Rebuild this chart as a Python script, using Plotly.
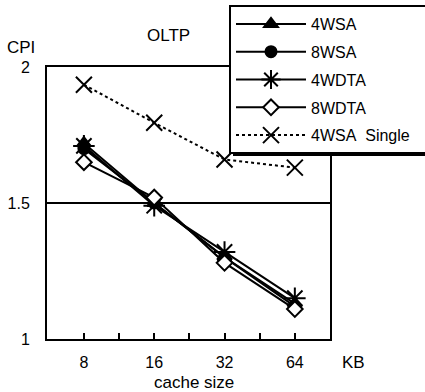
import plotly.graph_objects as go

categories = ["8", "16", "32", "64"]
x_pos = [0, 1, 2, 3]
s_4wsa = [1.72, 1.50, 1.30, 1.13]
s_8wsa = [1.70, 1.50, 1.30, 1.12]
s_4wdta = [1.71, 1.49, 1.32, 1.15]
s_8wdta = [1.65, 1.52, 1.28, 1.11]
s_4wsa_single = [1.935, 1.795, 1.66, 1.63]
y_ticks = [1, 1.5, 2]
y_tick_labels = ["1", "1.5", "2"]

FONT = "Liberation Sans, Arial, sans-serif"
NB = "\u00a0"

fig = go.Figure()

def add(name, y, symbol, size, fill="black", dash="solid", group=""):
    fig.add_trace(go.Scatter(
        x=x_pos, y=y, name=name, mode="lines+markers", legendgroup=group,
        line=dict(color="black", width=2, dash=dash),
        marker=dict(symbol=symbol, size=size, color=fill,
                    line=dict(color="black", width=2)),
    ))

add("4WSA", s_4wsa, "triangle-up", 12, group="a")
add("8WSA", s_8wsa, "circle", 11, group="b")
add("4WDTA", s_4wdta, "asterisk-open", 18, group="c")
add("8WDTA", s_8wdta, "diamond", 12, fill="white", group="d")
add("4WSA" + NB * 2 + "Single" + NB * 3, s_4wsa_single, "x-thin-open", 16,
    dash="dot", group="e")

tickvals = [0, 0.5, 1, 1.5, 2, 2.5, 3]
ticktext = ["8", "", "16", "", "32", "", "64"]

def px_x(p):
    return (p - 47) / 283

def px_y(p):
    return (339 - p) / 272

fig.update_layout(
    width=425, height=392,
    margin=dict(l=47, r=95, t=67, b=53, autoexpand=False),
    paper_bgcolor="white", plot_bgcolor="white",
    font=dict(family=FONT, size=16, color="black"),
    showlegend=True,
    legend=dict(
        x=px_x(229), y=px_y(5), xanchor="left", yanchor="top",
        bgcolor="white", bordercolor="black", borderwidth=2,
        font=dict(family=FONT, size=16, color="black"),
        tracegroupgap=4, itemwidth=70,
    ),
    xaxis=dict(
        range=[-0.525, 3.5], tickvals=tickvals, ticktext=ticktext,
        ticks="inside", ticklen=6, tickwidth=2, tickcolor="black",
        showline=True, linecolor="black", linewidth=2, mirror=True,
        showgrid=False, zeroline=False, ticklabelstandoff=8, automargin=False,
    ),
    yaxis=dict(
        range=[1, 2], tickvals=y_ticks, ticktext=y_tick_labels,
        ticks="", showline=True, linecolor="black", linewidth=2, mirror=True,
        showgrid=True, gridcolor="black", gridwidth=1.5, zeroline=False,
        ticklabelstandoff=12, automargin=False,
    ),
)

# legend drop shadow
fig.add_shape(type="rect", xref="paper", yref="paper",
              x0=px_x(233), x1=px_x(425), y0=px_y(9), y1=px_y(156),
              fillcolor="black", line=dict(width=0), layer="above")

def label(text, px, py):
    fig.add_annotation(text=text, xref="paper", yref="paper",
                       x=px_x(px), y=px_y(py),
                       xanchor="center", yanchor="middle", showarrow=False,
                       font=dict(size=17))

label("OLTP", 168, 36)
label("CPI", 21, 47)
label("KB", 353, 362)
label("cache size", 194, 382)

fig.write_html("out.html", config={"displayModeBar": False},
               post_script="document.body.style.margin='0';")
